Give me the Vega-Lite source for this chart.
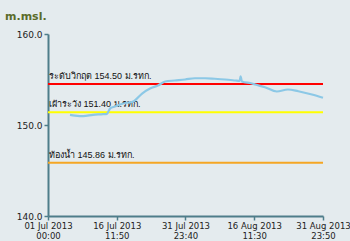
{
  "$schema": "https://vega.github.io/schema/vega-lite/v6.json",
  "width": 275,
  "height": 182,
  "autosize": {"type": "none"},
  "padding": {"left": 48, "top": 34, "right": 27, "bottom": 25},
  "background": "#e4ebee",
  "title": {
    "text": "m.msl.",
    "anchor": "start",
    "frame": "group",
    "dx": -43,
    "offset": 8,
    "fontSize": 11,
    "fontWeight": "bold",
    "color": "#5a6b2a",
    "font": "DejaVu Sans"
  },
  "config": {
    "view": {"stroke": null},
    "axis": {
      "grid": false,
      "domainColor": "#4e7d8a",
      "domainWidth": 2,
      "tickColor": "#4e7d8a",
      "tickWidth": 1.5,
      "labelColor": "#222222",
      "labelFont": "DejaVu Sans",
      "labelFontSize": 9,
      "title": null
    }
  },
  "datasets": {
    "levels": [
      {"time": "2013-07-05T23:00:00Z", "level": 151.12},
      {"time": "2013-07-07T02:00:00Z", "level": 151.04},
      {"time": "2013-07-08T23:00:00Z", "level": 150.97},
      {"time": "2013-07-11T03:00:00Z", "level": 151.12},
      {"time": "2013-07-13T10:00:00Z", "level": 151.19},
      {"time": "2013-07-14T07:00:00Z", "level": 151.23},
      {"time": "2013-07-14T23:30:00Z", "level": 151.81},
      {"time": "2013-07-16T02:00:00Z", "level": 152.03},
      {"time": "2013-07-17T22:00:00Z", "level": 152.36},
      {"time": "2013-07-20T05:00:00Z", "level": 152.58},
      {"time": "2013-07-22T05:00:00Z", "level": 153.46},
      {"time": "2013-07-24T00:00:00Z", "level": 154.01},
      {"time": "2013-07-25T19:00:00Z", "level": 154.34},
      {"time": "2013-07-27T10:00:00Z", "level": 154.78},
      {"time": "2013-07-29T14:00:00Z", "level": 154.89},
      {"time": "2013-07-31T22:00:00Z", "level": 155.0},
      {"time": "2013-08-03T02:00:00Z", "level": 155.14},
      {"time": "2013-08-05T10:00:00Z", "level": 155.14},
      {"time": "2013-08-07T14:00:00Z", "level": 155.08},
      {"time": "2013-08-09T22:00:00Z", "level": 155.0},
      {"time": "2013-08-12T05:00:00Z", "level": 154.89},
      {"time": "2013-08-13T05:00:00Z", "level": 154.84},
      {"time": "2013-08-13T10:00:00Z", "level": 155.35},
      {"time": "2013-08-13T17:00:00Z", "level": 154.78},
      {"time": "2013-08-16T00:00:00Z", "level": 154.56},
      {"time": "2013-08-16T17:00:00Z", "level": 154.45},
      {"time": "2013-08-18T22:00:00Z", "level": 154.15},
      {"time": "2013-08-21T14:00:00Z", "level": 153.68},
      {"time": "2013-08-24T02:00:00Z", "level": 153.9},
      {"time": "2013-08-26T10:00:00Z", "level": 153.71},
      {"time": "2013-08-29T12:00:00Z", "level": 153.35},
      {"time": "2013-08-31T23:50:00Z", "level": 152.99}
    ],
    "thresholds": [
      {"name": "critical", "value": 154.5, "label": "ระดับวิกฤต 154.50 ม.รทก."},
      {"name": "watch", "value": 151.4, "label": "เฝ้าระวัง 151.40 ม.รทก."},
      {"name": "bed", "value": 145.86, "label": "ท้องน้ำ 145.86 ม.รทก."}
    ]
  },
  "layer": [
    {
      "data": {"name": "thresholds"},
      "mark": {"type": "rule", "strokeWidth": 2},
      "encoding": {
        "y": {"field": "value", "type": "quantitative"},
        "color": {
          "field": "name",
          "type": "nominal",
          "scale": {"domain": ["critical", "watch", "bed"], "range": ["#ff0000", "#ffff00", "#f5a623"]},
          "legend": null
        }
      }
    },
    {
      "data": {"name": "thresholds"},
      "mark": {"type": "text", "align": "left", "baseline": "bottom", "dx": 1, "dy": -3, "fontSize": 9, "font": "Liberation Sans", "color": "#111111"},
      "encoding": {
        "x": {"datum": 1372636800000, "type": "temporal"},
        "y": {"field": "value", "type": "quantitative"},
        "text": {"field": "label"}
      }
    },
    {
      "data": {"name": "levels"},
      "mark": {"type": "line", "color": "#8cc8e6", "strokeWidth": 2.2, "interpolate": "monotone"},
      "encoding": {
        "x": {
          "field": "time",
          "type": "temporal",
          "scale": {"type": "utc", "domain": [1372636800000, 1377993000000]},
          "axis": {
            "values": [1372636800000, 1373975400000, 1375314000000, 1376652600000, 1377993000000],
            "labelExpr": "[utcFormat(datum.value, '%d %b %Y'), utcFormat(datum.value, '%H:%M')]",
            "tickSize": 4,
            "labelPadding": 1,
            "labelLineHeight": 10,
            "labelFontSize": 8.5,
            "labelOverlap": false,
            "labelFlush": false
          }
        },
        "y": {
          "field": "level",
          "type": "quantitative",
          "scale": {"domain": [140, 160], "nice": false, "zero": false},
          "axis": {"values": [140, 150, 160], "format": ".1f", "tickSize": 4}
        }
      }
    }
  ]
}
